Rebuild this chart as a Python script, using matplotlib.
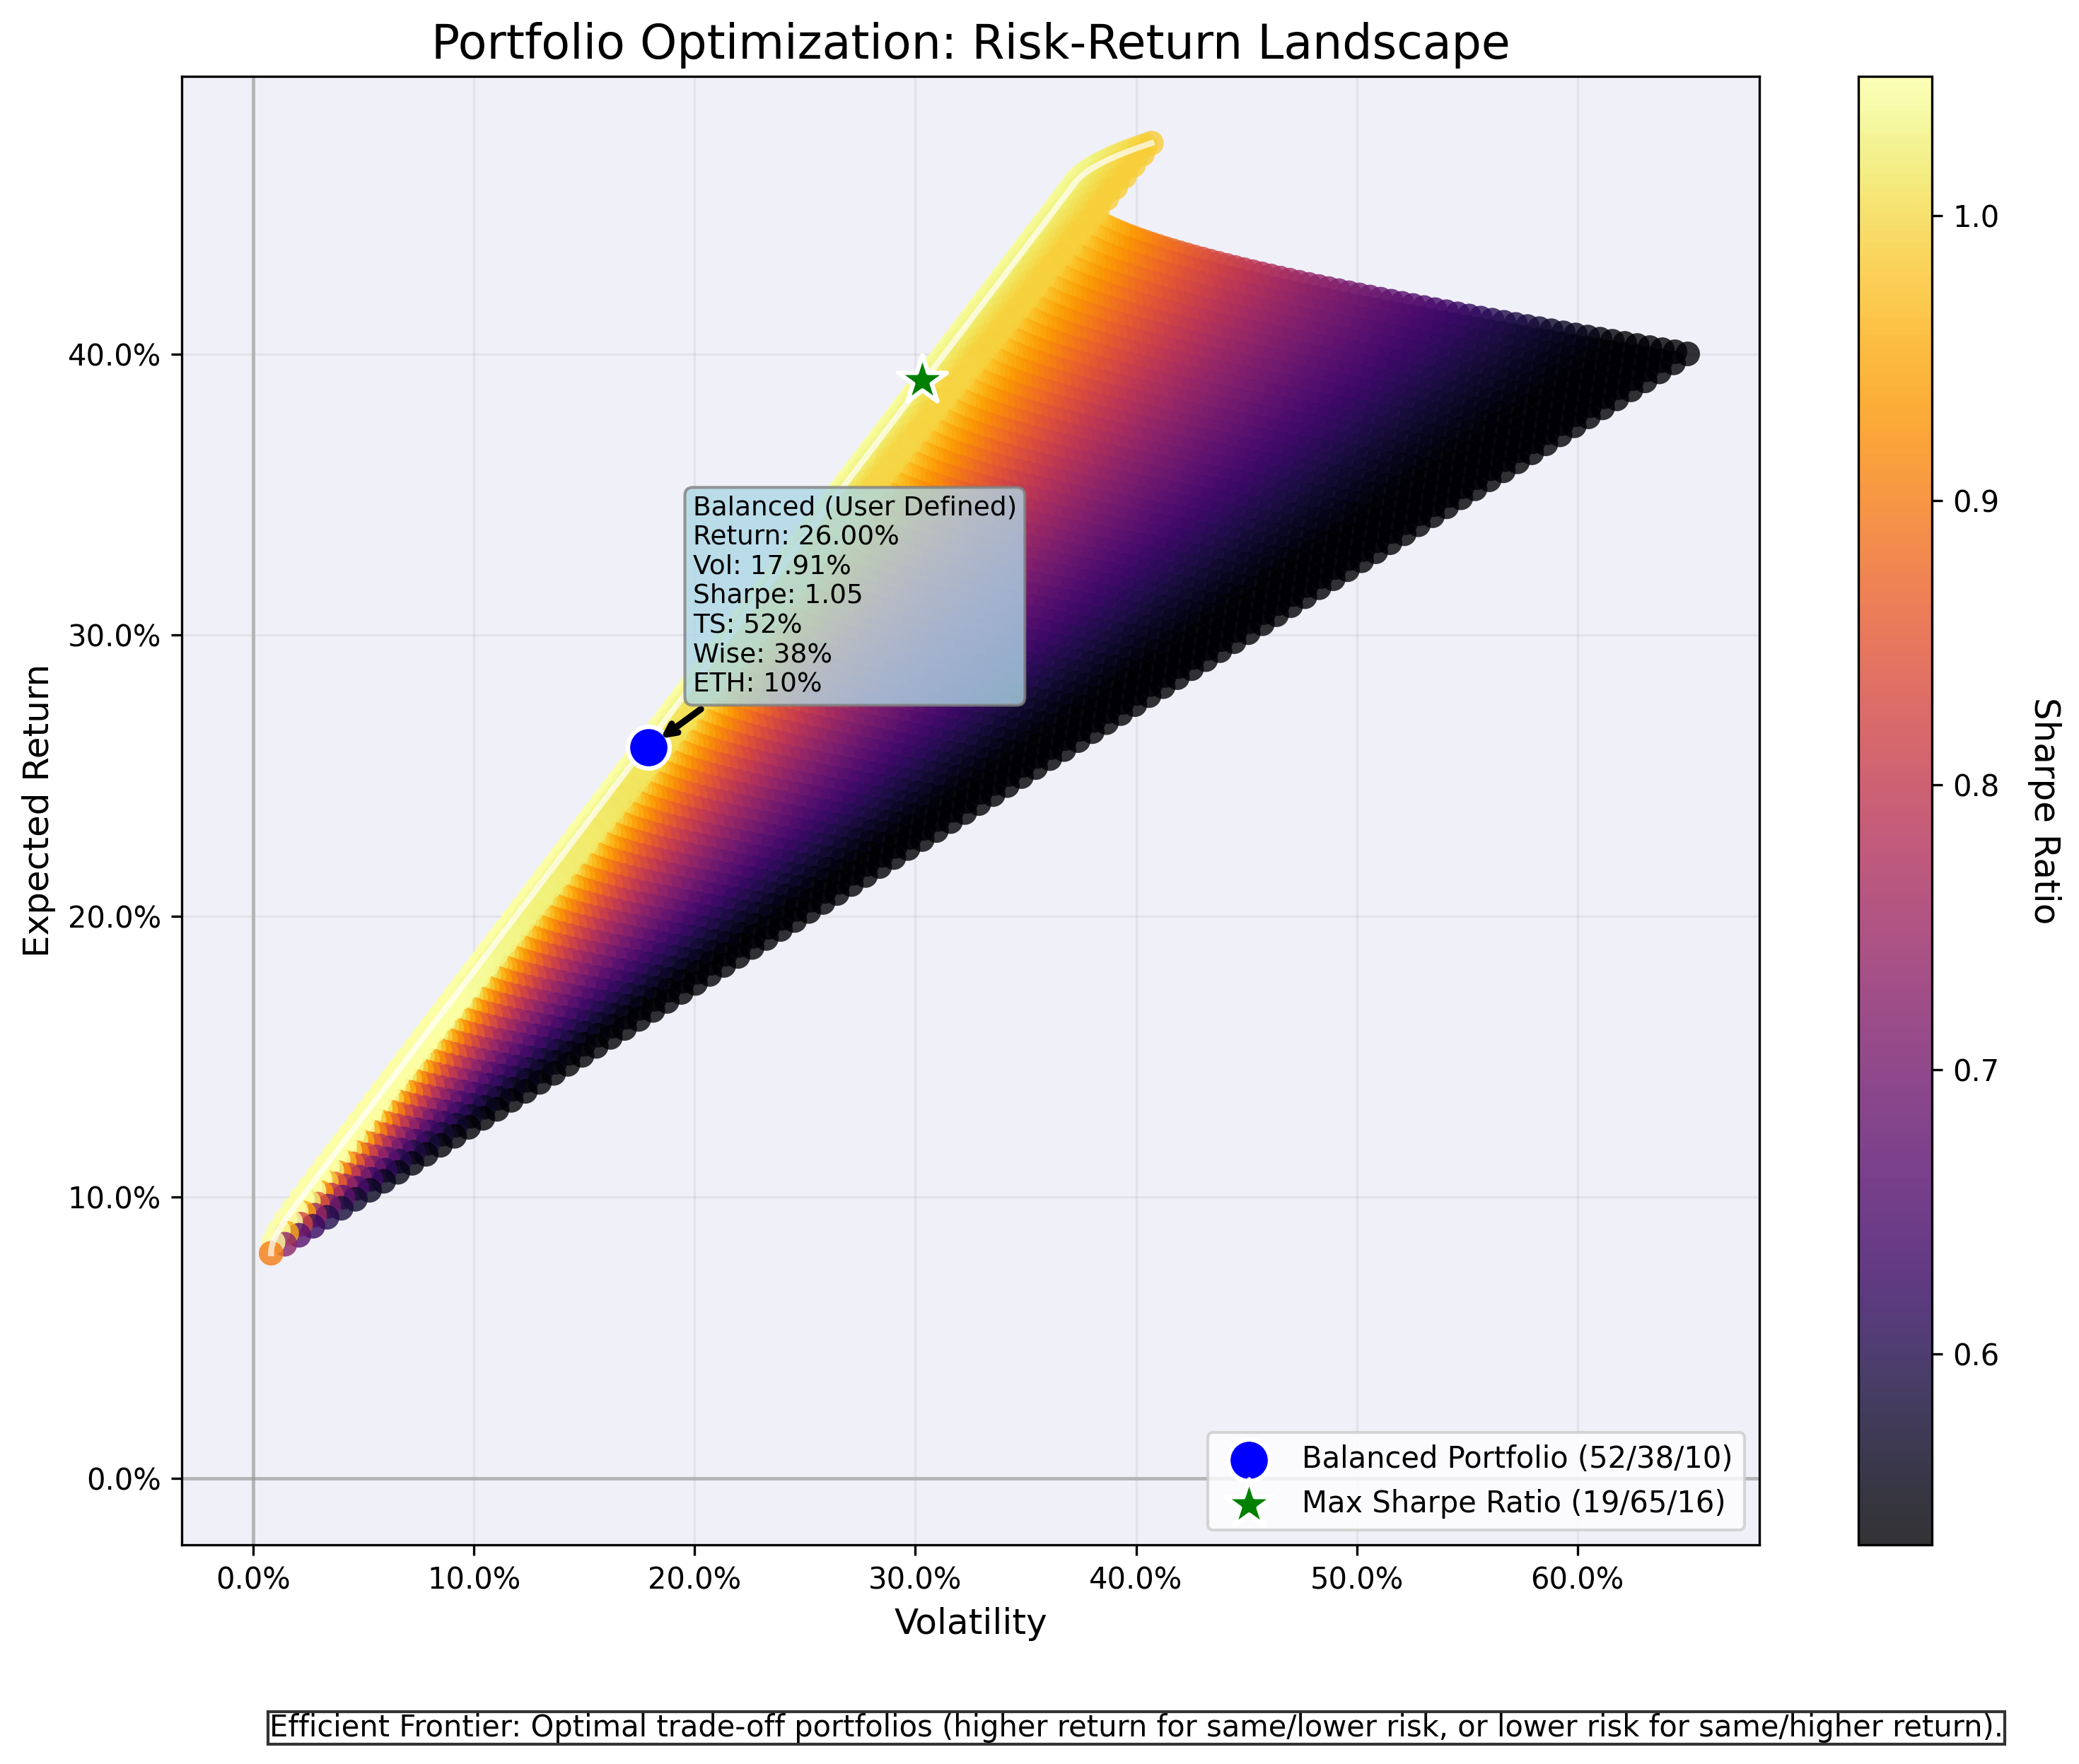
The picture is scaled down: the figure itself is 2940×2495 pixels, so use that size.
import numpy as np
import matplotlib
matplotlib.use("Agg")
import matplotlib.pyplot as plt
from matplotlib.colors import Normalize
from matplotlib.ticker import PercentFormatter

# ---------------- data ----------------
asset_names = ["TS", "Wise", "ETH"]
asset_returns = [0.080, 0.475, 0.400]      # expected annual return
asset_vols = [0.008, 0.407, 0.650]         # annual volatility
asset_corr = [[1.00, 0.00, 0.95],
              [0.00, 1.00, 0.18],
              [0.95, 0.18, 1.00]]
risk_free = 0.0728
weight_step = 0.01

balanced_weights = [52, 38, 10]
balanced_vol = 0.1791
balanced_ret = 0.2600
balanced_sharpe = 1.05

max_sharpe_weights = [19, 65, 16]
max_sharpe_vol = 0.3029
max_sharpe_ret = 0.3906

sharpe_min, sharpe_max = 0.533, 1.049

footer_text = ("Efficient Frontier: Optimal trade-off portfolios (higher return for "
               "same/lower risk, or lower risk for same/higher return).")

# ---------------- portfolio grid ----------------
r = np.array(asset_returns)
s = np.array(asset_vols)
cov = np.array(asset_corr) * np.outer(s, s)

n = int(round(1 / weight_step))
W = []
for i in range(n + 1):              # TS weight
    for j in range(n + 1 - i):      # Wise weight
        W.append([i, j, n - i - j])
W = np.array(W, dtype=float) / n
port_ret = W @ r
port_vol = np.sqrt(np.einsum("ij,jk,ik->i", W, cov, W))
port_sharpe = (port_ret - risk_free) / port_vol

# ---------------- efficient frontier (long-only, exact 1-D QP) ----------------
A = np.vstack([np.ones(3), r])
d = np.cross(np.ones(3), r)
targets = np.linspace(r.min(), r.max(), 400)
fr_vol, fr_ret = [], []
for mu in targets:
    w0 = np.linalg.pinv(A) @ np.array([1.0, mu])
    lo, hi = -np.inf, np.inf
    for k in range(3):
        if d[k] > 1e-12:
            lo = max(lo, -w0[k] / d[k])
        elif d[k] < -1e-12:
            hi = min(hi, -w0[k] / d[k])
    if lo > hi + 1e-12:
        continue
    t = -(d @ cov @ w0) / (d @ cov @ d)
    t = min(max(t, lo), hi)
    w = w0 + t * d
    fr_vol.append(np.sqrt(w @ cov @ w))
    fr_ret.append(w @ r)

# ---------------- figure ----------------
W_PX, H_PX, DPI = 2940, 2495, 300
fig = plt.figure(figsize=(W_PX / DPI, H_PX / DPI), dpi=DPI)
ax_l, ax_r, ax_t, ax_b = 257, 2488, 108, 2185
ax = fig.add_axes([ax_l / W_PX, 1 - ax_b / H_PX, (ax_r - ax_l) / W_PX, (ax_b - ax_t) / H_PX])
cax = fig.add_axes([2628 / W_PX, 1 - ax_b / H_PX, 104 / W_PX, (ax_b - ax_t) / H_PX])

ax.set_facecolor("#f0f0f8")
ax.grid(True, alpha=0.2)
ax.set_axisbelow(True)

ax.axhline(0, color="gray", alpha=0.5, lw=1.2, zorder=0.5)
ax.axvline(0, color="gray", alpha=0.5, lw=1.2, zorder=0.5)

sc = ax.scatter(port_vol, port_ret, c=port_sharpe, cmap="inferno",
                norm=Normalize(sharpe_min, sharpe_max), s=70, alpha=0.8,
                edgecolors="none", zorder=2)

ax.plot(fr_vol, fr_ret, color="white", lw=2, alpha=0.7, zorder=3)

ax.scatter([balanced_vol], [balanced_ret], color="blue", s=200, marker="o",
           edgecolors="white", linewidths=1.5, zorder=5,
           label="Balanced Portfolio (%d/%d/%d)" % tuple(balanced_weights))
ax.scatter([max_sharpe_vol], [max_sharpe_ret], color="green", s=300, marker="*",
           edgecolors="white", linewidths=1.5, zorder=5,
           label="Max Sharpe Ratio (%d/%d/%d)" % tuple(max_sharpe_weights))

ann_text = ("Balanced (User Defined)\n"
            f"Return: {balanced_ret*100:.2f}%\n"
            f"Vol: {balanced_vol*100:.2f}%\n"
            f"Sharpe: {balanced_sharpe:.2f}\n"
            + "\n".join(f"{nm}: {wt}%" for nm, wt in zip(asset_names, balanced_weights)))
ax.annotate(ann_text, xy=(balanced_vol, balanced_ret), xytext=(15, 17),
            textcoords="offset points", fontsize=9, ha="left", va="bottom",
            bbox=dict(boxstyle="round,pad=0.3", facecolor="lightblue",
                      edgecolor="gray", alpha=0.8),
            arrowprops=dict(arrowstyle="->", color="black", lw=2.2, shrinkB=5),
            zorder=6)

ax.xaxis.set_major_formatter(PercentFormatter(xmax=1, decimals=1))
ax.yaxis.set_major_formatter(PercentFormatter(xmax=1, decimals=1))
ax.tick_params(labelsize=10)
ax.set_xlabel("Volatility", fontsize=12)
ax.set_ylabel("Expected Return", fontsize=12)
ax.set_title("Portfolio Optimization: Risk-Return Landscape", fontsize=16)

ax.legend(loc="lower right", fontsize=10)

cb = fig.colorbar(sc, cax=cax)
cb.set_label("Sharpe Ratio", rotation=270, fontsize=12, labelpad=21)
cb.ax.tick_params(labelsize=10)

fig.text(1607 / W_PX, 1 - 2444 / H_PX, footer_text, ha="center", va="center",
         fontsize=10,
         bbox=dict(boxstyle="square,pad=0.05", facecolor="white",
                   edgecolor="black", alpha=0.8, lw=1))

fig.savefig("out.png", dpi=DPI)
